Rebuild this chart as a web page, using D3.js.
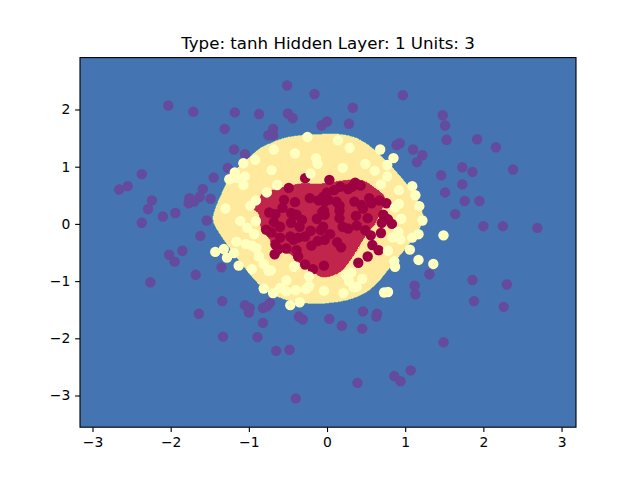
<!DOCTYPE html>
<html>
<head>
<meta charset="utf-8">
<script src="https://cdn.jsdelivr.net/npm/d3@7"></script>
<style>
  html, body { margin: 0; padding: 0; background: #fff; }
  svg { display: block; }
  text { font-family: "DejaVu Sans", sans-serif; fill: #000; }
</style>
</head>
<body>
<svg width="640" height="480"></svg>
<script>
const xTicks = [-3, -2, -1, 0, 1, 2, 3];
const yTicks = [-3, -2, -1, 0, 1, 2];
const title = 'Type: tanh Hidden Layer: 1 Units: 3';

// decision regions, outlines
const outerRegion = [[-0.09,1.57],[0.17,1.57],[0.38,1.50],[0.55,1.36],[0.72,1.15],[0.87,0.94],[1.00,0.73],[1.13,0.51],[1.21,0.24],[1.24,0.10],[1.21,-0.02],[1.15,-0.16],[1.06,-0.34],[0.96,-0.51],[0.83,-0.72],[0.68,-0.98],[0.51,-1.19],[0.34,-1.30],[0.17,-1.36],[0.04,-1.38],[-0.09,-1.40],[-0.26,-1.39],[-0.50,-1.34],[-0.75,-1.19],[-0.90,-1.02],[-1.03,-0.81],[-1.16,-0.58],[-1.28,-0.36],[-1.38,-0.16],[-1.45,0.01],[-1.46,0.12],[-1.43,0.27],[-1.35,0.53],[-1.26,0.77],[-1.13,1.00],[-0.99,1.17],[-0.86,1.32],[-0.71,1.42],[-0.56,1.50],[-0.35,1.55]];
const innerRegion = [[-0.09,0.70],[0.21,0.76],[0.46,0.76],[0.59,0.65],[0.72,0.51],[0.74,0.44],[0.72,0.31],[0.67,0.16],[0.61,-0.02],[0.56,-0.09],[0.46,-0.28],[0.36,-0.51],[0.27,-0.69],[0.17,-0.84],[0.00,-0.93],[-0.09,-0.92],[-0.24,-0.77],[-0.35,-0.69],[-0.42,-0.58],[-0.50,-0.51],[-0.59,-0.47],[-0.70,-0.42],[-0.73,-0.28],[-0.83,-0.12],[-0.86,0.03],[-0.88,0.19],[-0.96,0.27],[-0.88,0.36],[-0.86,0.45],[-0.84,0.52],[-0.73,0.58],[-0.62,0.62],[-0.49,0.66],[-0.32,0.71]];

const purplePoints = [[-0.51,2.42],[-0.16,2.27],[-2.03,2.07],[-1.71,1.96],[-1.18,1.95],[-0.87,1.92],[-0.50,1.93],[-0.44,1.85],[-0.07,1.72],[0.00,1.79],[-1.31,1.66],[-0.69,1.66],[-0.75,1.55],[-0.69,1.55],[-1.19,1.30],[-1.05,1.22],[-1.27,0.98],[-1.45,0.81],[-2.37,0.87],[-2.55,0.66],[-2.66,0.60],[-1.59,0.61],[-1.63,0.47],[-1.49,0.44],[-1.76,0.45],[-1.70,0.39],[-1.77,0.36],[-2.24,0.41],[-2.29,0.26],[-1.94,0.19],[-2.10,0.13],[-2.37,0.02],[-1.54,0.06],[-1.62,-0.21],[-1.85,-0.47],[0.97,2.25],[0.33,2.03],[0.28,1.75],[1.48,1.90],[1.51,1.72],[1.53,1.47],[1.92,1.48],[2.16,1.34],[0.93,1.41],[0.89,1.38],[1.10,1.30],[1.22,1.20],[1.15,1.08],[1.73,0.99],[1.86,0.91],[2.38,0.95],[1.46,0.85],[1.73,0.69],[1.51,0.55],[1.76,0.40],[1.95,0.40],[1.64,0.17],[2.00,-0.04],[2.25,-0.04],[2.69,-0.07],[-2.02,-0.54],[-1.95,-0.66],[-1.35,-0.76],[-1.68,-0.89],[-2.26,-1.02],[-1.34,-1.35],[-1.05,-1.42],[-0.99,-1.47],[-1.00,-1.55],[-0.82,-1.47],[-0.77,-1.44],[-0.73,-1.38],[-1.64,-1.57],[-0.82,-1.73],[-1.33,-1.97],[-0.89,-1.98],[-0.65,-2.22],[-0.48,-2.20],[-0.40,-3.05],[-0.36,-1.62],[-0.31,-1.67],[0.03,-1.66],[0.19,-1.78],[0.46,-1.53],[0.64,-1.57],[0.63,-1.62],[0.45,-1.83],[1.31,-0.88],[1.12,-1.08],[1.13,-1.23],[1.86,-0.98],[1.88,-1.35],[2.30,-1.06],[2.26,-1.45],[1.49,-2.07],[1.07,-2.56],[0.86,-2.66],[0.94,-2.75],[0.39,-2.78]];

const redPoints = [[-0.49,0.63],[-0.28,0.80],[-0.22,0.45],[-0.55,0.42],[-0.41,0.38],[-0.11,0.41],[-0.57,0.28],[-0.74,0.20],[-0.66,0.17],[-0.46,0.19],[-0.39,0.16],[-0.32,0.07],[-0.13,0.09],[-0.46,0.02],[-0.68,0.03],[-0.03,0.39],[-0.06,0.21],[-0.78,-0.10],[-0.60,-0.05],[0.03,0.77],[0.36,0.72],[0.43,0.67],[0.32,0.65],[0.27,0.61],[0.17,0.65],[0.09,0.59],[0.00,0.55],[-0.05,0.47],[0.02,0.42],[0.12,0.39],[0.35,0.39],[0.16,0.32],[0.44,0.33],[0.46,0.27],[0.54,0.45],[0.57,0.36],[0.67,0.41],[0.76,0.36],[-0.04,0.23],[-0.03,0.16],[0.16,0.23],[0.16,0.10],[0.37,0.14],[0.52,0.10],[0.70,0.02],[0.72,0.16],[0.78,0.08],[0.83,0.00],[0.20,-0.05],[0.38,-0.03],[0.27,-0.08],[0.49,-0.11],[0.56,-0.20],[0.69,-0.16],[-0.05,-0.05],[-0.71,-0.15],[-0.60,-0.24],[-0.47,-0.22],[-0.43,-0.28],[-0.37,-0.24],[-0.28,-0.22],[-0.21,-0.12],[-0.12,-0.30],[-0.20,-0.38],[-0.03,-0.28],[-0.66,-0.36],[-0.52,-0.43],[-0.39,-0.46],[-0.62,-0.44],[-0.67,-0.53],[-0.37,-0.57],[-0.28,-0.71],[-0.18,-0.79],[-0.04,-0.73],[-0.35,-0.05],[-0.08,-0.11],[0.04,-0.18],[0.13,-0.32],[0.18,-0.41],[0.58,-0.37],[0.66,-0.46],[0.52,-0.57],[0.40,-0.68]];

const yellowPoints = [[-0.25,1.52],[-0.68,1.30],[-0.41,1.23],[-0.14,1.15],[-0.12,1.05],[-0.92,1.12],[-1.07,1.06],[-0.71,0.94],[-0.21,0.88],[-1.18,0.90],[-1.05,0.83],[-1.16,0.80],[-1.25,0.78],[-1.07,0.68],[-0.64,0.68],[-0.77,0.55],[-1.30,0.27],[-0.91,0.41],[-0.98,0.32],[-1.11,0.05],[-0.91,0.05],[-1.02,-0.07],[-0.93,-0.18],[-1.16,-0.31],[-1.04,-0.35],[-0.96,-0.38],[-0.90,-0.43],[-1.32,-0.44],[-1.43,-0.49],[-1.19,-0.51],[-1.28,-0.59],[-0.87,-0.57],[-0.81,-0.70],[-1.13,-0.73],[-0.96,-0.79],[-0.75,-0.82],[-0.72,-0.81],[-0.42,-0.75],[-0.23,-0.92],[-0.52,-0.99],[-0.60,-1.12],[-0.81,-1.13],[-0.69,-1.21],[-0.52,-1.18],[-0.40,-1.16],[-0.23,-1.09],[-0.27,-1.14],[-0.04,-1.17],[-0.47,-1.42],[-0.35,-1.37],[0.14,1.46],[0.29,1.33],[0.68,1.30],[0.85,1.15],[0.77,1.03],[0.49,1.05],[0.20,0.98],[0.61,0.93],[0.77,0.83],[0.69,0.69],[0.92,0.59],[1.09,0.66],[1.13,0.50],[1.18,0.31],[0.92,0.35],[0.87,0.29],[0.95,0.09],[1.22,0.06],[1.17,-0.18],[1.49,-0.20],[0.91,-0.14],[0.84,-0.24],[0.94,-0.27],[1.09,-0.24],[1.06,-0.45],[0.78,-0.47],[1.17,-0.63],[1.36,-0.70],[0.86,-0.65],[0.87,-0.75],[0.31,-0.85],[0.24,-0.89],[0.28,-1.00],[0.45,-0.96],[0.38,-1.10],[0.34,-1.11],[0.21,-1.21],[0.73,-1.20],[0.78,-1.19]];

const margin = { left: 80, right: 64, top: 57.6, bottom: 52.8 };
const svg = d3.select('svg');
const width = +svg.attr('width');
const height = +svg.attr('height');
const innerWidth = width - margin.left - margin.right;
const innerHeight = height - margin.top - margin.bottom;

const xScale = d3.scaleLinear().domain([-3.16, 3.185]).range([0, innerWidth]);
const yScale = d3.scaleLinear().domain([-3.554, 2.907]).range([innerHeight, 0]);

const g = svg.append('g')
    .attr('transform', `translate(${margin.left}, ${margin.top})`);

g.append('rect')
    .attr('width', innerWidth)
    .attr('height', innerHeight)
    .attr('fill', '#4474b2');

const regionLine = d3.line()
    .x(d => xScale(d[0]))
    .y(d => yScale(d[1]))
    .curve(d3.curveCatmullRomClosed);

g.append('path')
    .attr('d', regionLine(outerRegion))
    .attr('fill', '#fee99d')
    .attr('stroke', '#5fbfa8')
    .attr('stroke-width', 0.6)
    .attr('shape-rendering', 'crispEdges');

g.append('path')
    .attr('d', regionLine(innerRegion))
    .attr('fill', '#c1254c')
    .attr('stroke', '#e8643f')
    .attr('stroke-width', 0.4)
    .attr('shape-rendering', 'crispEdges');

const drawPoints = (points, color) => {
  g.append('g').selectAll('circle')
    .data(points)
    .join('circle')
      .attr('cx', d => xScale(d[0]))
      .attr('cy', d => yScale(d[1]))
      .attr('r', 5.2)
      .attr('fill', color);
};

drawPoints(purplePoints, '#644b9e');
drawPoints(redPoints, '#9e0142');
drawPoints(yellowPoints, '#ffffbf');

const xAxis = d3.axisBottom(xScale).tickValues(xTicks).tickFormat(d3.format('d')).tickSize(4.86).tickPadding(4.86).tickSizeOuter(0);
const yAxis = d3.axisLeft(yScale).tickValues(yTicks).tickFormat(d3.format('d')).tickSize(4.86).tickPadding(4.86).tickSizeOuter(0);

const xAxisG = g.append('g').attr('transform', `translate(0, ${innerHeight})`).call(xAxis);
const yAxisG = g.append('g').call(yAxis);

[xAxisG, yAxisG].forEach(a => {
  a.selectAll('text').style('font-size', '13.89px').style('font-family', '"DejaVu Sans", sans-serif');
  a.selectAll('line').attr('stroke', '#000').attr('stroke-width', 1.11);
  a.select('.domain').remove();
});

// frame on top of everything
g.append('rect')
    .attr('width', innerWidth)
    .attr('height', innerHeight)
    .attr('fill', 'none')
    .attr('stroke', '#000')
    .attr('stroke-width', 1.11);

svg.append('text')
    .attr('x', margin.left + innerWidth / 2)
    .attr('y', 49)
    .attr('text-anchor', 'middle')
    .style('font-size', '16.67px')
    .text(title);
</script>
</body>
</html>
